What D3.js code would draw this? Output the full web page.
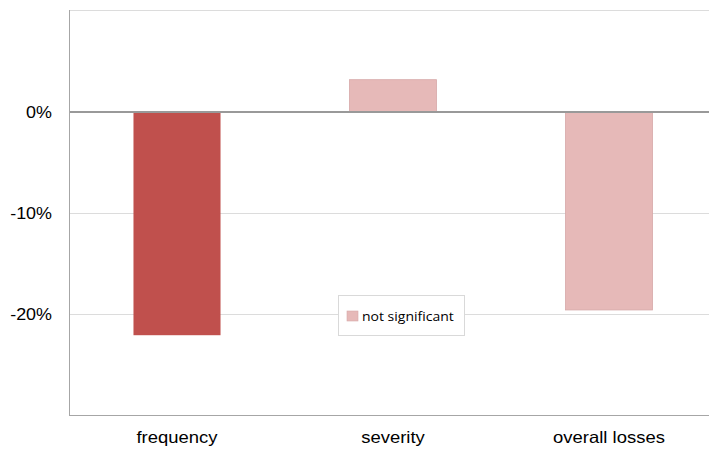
<!DOCTYPE html>
<html><head><meta charset="utf-8">
<script src="https://cdn.jsdelivr.net/npm/d3@7/dist/d3.min.js"></script>
<style>body{margin:0;background:#fff}svg{display:block}</style>
</head><body>
<script>
const categories = ["frequency", "severity", "overall losses"];
const values = [-0.221, 0.032, -0.196];
const significant = [true, false, false];
const tickValues = [0, -0.1, -0.2];
const legendLabel = "not significant";

const W = 709, H = 450;
const svg = d3.select("body").append("svg").attr("width", W).attr("height", H);
const x = d3.scaleBand().domain(categories).range([69, 717]).paddingInner(0.597).paddingOuter(0.2985);
const y = d3.scaleLinear().domain([-0.3, 0.1]).range([415, 11]);
const SX = 1.12;

// gridlines
svg.append("g").selectAll("line").data([-0.1, -0.2]).join("line")
  .attr("x1", 69).attr("x2", 717)
  .attr("y1", d => Math.round(y(d)) + 0.5).attr("y2", d => Math.round(y(d)) + 0.5)
  .attr("stroke", "#dcdcdc").attr("stroke-width", 1);

// top & bottom lines
svg.append("line").attr("x1", 69).attr("x2", 717)
  .attr("y1", 10.5).attr("y2", 10.5).attr("stroke", "#dcdcdc");
svg.append("line").attr("x1", 69).attr("x2", 717)
  .attr("y1", Math.round(y(-0.3)) + 0.5).attr("y2", Math.round(y(-0.3)) + 0.5)
  .attr("stroke", "#a6a6a6");

// bars
svg.append("g").selectAll("rect").data(values).join("rect")
  .attr("x", (d, i) => x(categories[i]))
  .attr("width", x.bandwidth())
  .attr("y", d => y(Math.max(0, d)))
  .attr("height", d => Math.abs(y(d) - y(0)))
  .attr("fill", (d, i) => significant[i] ? "#C0504D" : "#E6B9B8")
  .attr("stroke", (d, i) => significant[i] ? "none" : "#d6a9a8")
  .attr("stroke-width", 0.8);

// zero line
svg.append("line").attr("x1", 69).attr("x2", 717)
  .attr("y1", y(0)).attr("y2", y(0))
  .attr("stroke", "#999").attr("stroke-width", 2);

// y axis
const fmt = d => d3.format(".0%")(d).replace("\u2212", "-");
const yAxis = d3.axisLeft(y).tickValues(tickValues).tickSize(0).tickPadding(0)
  .tickFormat(fmt);
const gy = svg.append("g").attr("transform", "translate(52,0)").call(yAxis);
gy.select(".domain").remove();
gy.selectAll("text").attr("font-family", "Liberation Sans, Arial, sans-serif")
  .attr("font-size", 16).attr("fill", "#000").attr("x", 0).attr("dy", "0.36em")
  .attr("transform", `scale(${SX},1)`);
svg.append("line").attr("x1", 69.5).attr("x2", 69.5).attr("y1", 10).attr("y2", 415.5)
  .attr("stroke", "#a6a6a6");

// x axis labels
const xAxis = d3.axisBottom(x).tickSize(0).tickPadding(0);
const gx = svg.append("g").attr("transform", "translate(0,443)").call(xAxis);
gx.select(".domain").remove();
gx.selectAll("text").attr("font-family", "Liberation Sans, Arial, sans-serif")
  .attr("font-size", 16.5).attr("fill", "#000").attr("y", 0).attr("dy", 0)
  .attr("transform", `scale(${SX},1)`);

// legend
const lg = svg.append("g");
lg.append("rect").attr("x", 338.5).attr("y", 295.5).attr("width", 126).attr("height", 40)
  .attr("fill", "#fff").attr("stroke", "#d9d9d9");
lg.append("rect").attr("x", 347).attr("y", 311).attr("width", 11).attr("height", 10)
  .attr("fill", "#E6B9B8").attr("stroke", "#d6a9a8").attr("stroke-width", 0.6);
lg.append("text").attr("transform", `translate(362,320.5) scale(${SX},1)`).text(legendLabel)
  .attr("font-family", "Open Sans, Carlito, sans-serif").attr("font-size", 12.5).attr("fill", "#000");
</script>
</body></html>
